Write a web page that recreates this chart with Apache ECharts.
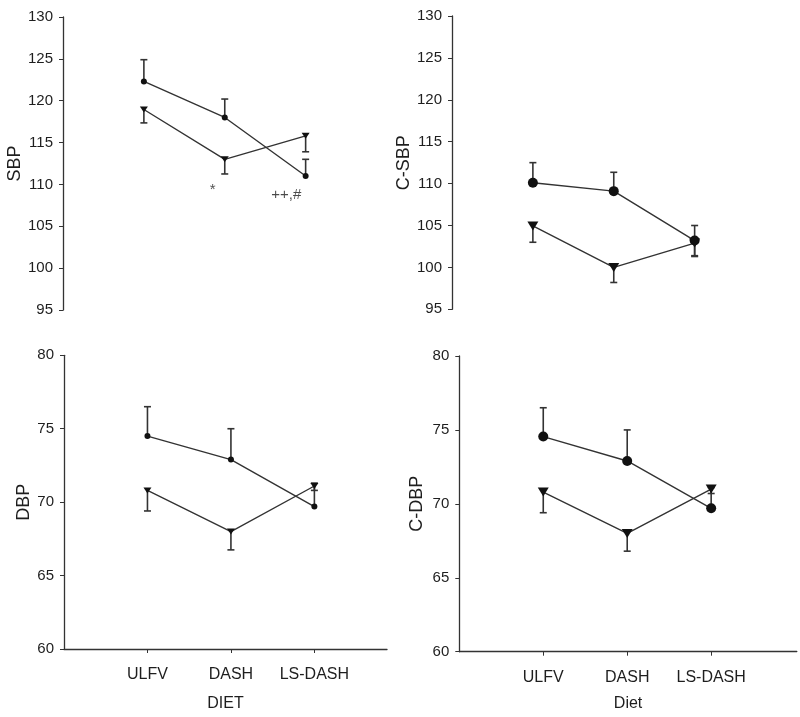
<!DOCTYPE html>
<html><head><meta charset="utf-8">
<script src="https://cdn.jsdelivr.net/npm/echarts@6.0.0/dist/echarts.min.js"></script>
<style>html,body{margin:0;padding:0;background:#fff}#c{width:800px;height:717px}</style>
</head><body><div id="c"></div>
<script>
// ---- data ----
const categories = ['ULFV', 'DASH', 'LS-DASH'];

const sbpCircle = [122.3, 118.0, 111.0];
const sbpCircleErrUp = [2.6, 2.2, 2.0];
const sbpTri = [118.95, 113.0, 115.8];
const sbpTriErrDown = [1.6, 1.75, 1.9];

const csbpCircle = [110.1, 109.1, 103.2];
const csbpCircleErrUp = [2.4, 2.25, 1.8];
const csbpCircleErrDown = [0, 0, 1.8];
const csbpTri = [104.95, 100.0, 102.9];
const csbpTriErrDown = [1.95, 1.8, 1.6];

const dbpCircle = [74.5, 72.9, 69.7];
const dbpCircleErrUp = [2.0, 2.1, 1.6];
const dbpTri = [70.8, 68.0, 71.1];
const dbpTriErrDown = [1.4, 1.25, 0.3];

const cdbpCircle = [74.55, 72.9, 69.7];
const cdbpCircleErrUp = [1.95, 2.1, 1.4];
const cdbpTri = [70.8, 68.0, 71.0];
const cdbpTriErrDown = [1.4, 1.2, 0.3];

const sbpTicks = [95, 130, 5];
const dbpTicks = [60, 80, 5];

const annotationText = ['*', '++,#'];
const annotationAt = [[1.85, 109.4], [2.76, 108.8]];

// ---- build ----
const INK = '#1e1e1e';
const LINE = '#333';
const NARROW = '"Liberation Sans Narrow", "Arial Narrow", "Liberation Sans", sans-serif';
const REG = '"Liberation Sans", Arial, sans-serif';

const panels = [
  {grid:{left:63, top:17, width:313, height:293}, xmax:3.87, showX:false, ticks:sbpTicks, name:'SBP', nameGap:36, xname:'', xgap:47,
   circ:sbpCircle, cUp:sbpCircleErrUp, cDn:null, tri:sbpTri, tDn:sbpTriErrDown, big:false},
  {grid:{left:452, top:16, width:313, height:293.3}, xmax:3.87, showX:false, ticks:sbpTicks, name:'C-SBP', nameGap:36, xname:'', xgap:47,
   circ:csbpCircle, cUp:csbpCircleErrUp, cDn:csbpCircleErrDown, tri:csbpTri, tDn:csbpTriErrDown, big:true},
  {grid:{left:64, top:355.3, width:323, height:293.7}, xmax:3.87, showX:true, ticks:dbpTicks, name:'DBP', nameGap:30, xname:'DIET', xgap:47,
   circ:dbpCircle, cUp:dbpCircleErrUp, cDn:null, tri:dbpTri, tDn:dbpTriErrDown, big:false},
  {grid:{left:459.3, top:356, width:337.5, height:295.7}, xmax:4.02, showX:true, ticks:dbpTicks, name:'C-DBP', nameGap:33, xname:'Diet', xgap:44,
   circ:cdbpCircle, cUp:cdbpCircleErrUp, cDn:null, tri:cdbpTri, tDn:cdbpTriErrDown, big:true}
];

const grid = [], xAxis = [], yAxis = [], series = [];

function errRender(params, api) {
  const x = api.value(0), y1 = api.value(1), y2 = api.value(2);
  const a = api.coord([x, y1]), b = api.coord([x, y2]);
  const w = 3.5;
  return {type:'group', children:[
    {type:'line', shape:{x1:a[0], y1:a[1], x2:b[0], y2:b[1]}, style:{stroke:LINE, lineWidth:1.6}},
    {type:'line', shape:{x1:b[0]-w, y1:b[1], x2:b[0]+w, y2:b[1]}, style:{stroke:LINE, lineWidth:1.6}}
  ]};
}

panels.forEach((p, i) => {
  grid.push(Object.assign({containLabel:false}, p.grid));
  xAxis.push({
    type:'value', gridIndex:i, min:0, max:p.xmax, show:p.showX,
    name:p.xname, nameLocation:'middle', nameGap:p.xgap,
    nameTextStyle:{fontFamily:NARROW, fontSize:16, color:INK},
    axisLine:{show:true, onZero:false, lineStyle:{color:LINE, width:1.3}},
    axisTick:{show:true, customValues:[1,2,3], length:4, inside:false, lineStyle:{color:LINE}},
    axisLabel:{customValues:[1,2,3], formatter:v => categories[Math.round(v)-1] || '', margin:18,
      fontFamily:NARROW, fontSize:16, color:INK},
    splitLine:{show:false}
  });
  yAxis.push({
    type:'value', gridIndex:i, min:p.ticks[0], max:p.ticks[1], interval:p.ticks[2],
    name:p.name, nameLocation:'middle', nameGap:p.nameGap, nameRotate:90,
    nameTextStyle:{fontFamily:REG, fontSize:18, color:INK},
    axisLine:{show:true, lineStyle:{color:LINE, width:1.3}},
    axisTick:{show:true, length:4, lineStyle:{color:LINE}},
    axisLabel:{fontFamily:NARROW, fontSize:15, color:INK, margin:10},
    splitLine:{show:false}
  });
  const cData = p.circ.map((v, k) => [k+1, v]);
  const tData = p.tri.map((v, k) => [k+1, v]);
  const errData = [];
  p.circ.forEach((v, k) => { if (p.cUp[k] > 0) errData.push([k+1, v, v + p.cUp[k]]); });
  if (p.cDn) p.circ.forEach((v, k) => { if (p.cDn[k] > 0) errData.push([k+1, v, v - p.cDn[k]]); });
  p.tri.forEach((v, k) => { if (p.tDn[k] > 0) errData.push([k+1, v, v - p.tDn[k]]); });
  series.push({type:'custom', xAxisIndex:i, yAxisIndex:i, renderItem:errRender, data:errData, z:3, silent:true});
  series.push({type:'line', xAxisIndex:i, yAxisIndex:i, data:cData, symbol:'circle', symbolSize:p.big?10:6,
    lineStyle:{color:LINE, width:1.4}, itemStyle:{color:'#111'}, z:4, silent:true, animation:false});
  series.push({type:'line', xAxisIndex:i, yAxisIndex:i, data:tData, symbol:'triangle', symbolRotate:180, symbolSize:p.big?[11,9]:[8,6],
    lineStyle:{color:LINE, width:1.4}, itemStyle:{color:'#111'}, z:4, silent:true, animation:false});
  if (i === 0) {
    series.push({type:'scatter', xAxisIndex:0, yAxisIndex:0, symbolSize:0, silent:true,
      data:annotationAt.map((c, k) => ({value:c, label:{show:true, formatter:annotationText[k], position:'inside',
        fontFamily:REG, fontSize:15, color:INK}}))});
  }
});

const chart = echarts.init(document.getElementById('c'), null, {renderer:'canvas'});
chart.setOption({animation:false, backgroundColor:'#fff', grid, xAxis, yAxis, series});
</script></body></html>
